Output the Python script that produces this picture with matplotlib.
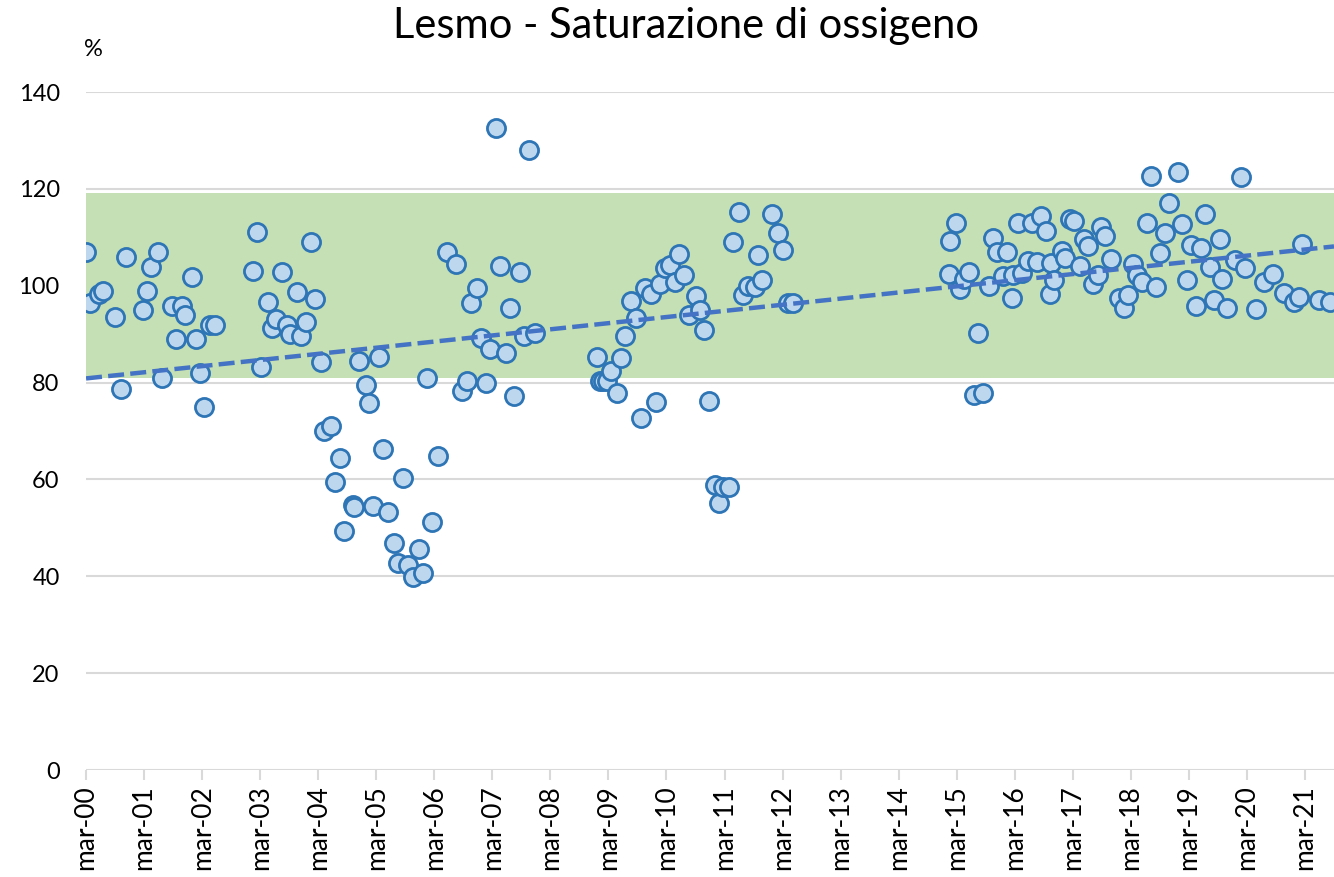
import matplotlib.pyplot as plt
import numpy as np

plt.rcParams['font.family'] = ['Lato', 'DejaVu Sans']

# anni dal marzo 2000 e saturazione di ossigeno (%)
anni = [0.00, 0.07, 0.22, 0.30, 0.50, 0.60, 0.69, 0.98, 1.05, 1.12, 1.24, 1.30,
        1.48, 1.55, 1.65, 1.71, 1.82, 1.89, 1.97, 2.04, 2.14, 2.23,
        2.88, 2.95, 3.02, 3.13, 3.20, 3.28, 3.38, 3.46, 3.52, 3.63, 3.70, 3.79,
        3.88, 3.95, 4.05, 4.10, 4.22, 4.29, 4.37, 4.45, 4.60, 4.62, 4.70, 4.82,
        4.87, 4.95, 5.05, 5.12, 5.21, 5.30, 5.37, 5.46, 5.54, 5.64, 5.73, 5.81,
        5.88, 5.96, 6.06, 6.22, 6.38, 6.48, 6.56, 6.63, 6.73, 6.81, 6.89, 6.96,
        7.06, 7.14, 7.23, 7.30, 7.38, 7.47, 7.55, 7.63, 7.73,
        8.80, 8.85, 8.90, 8.97, 9.04, 9.14, 9.22, 9.29, 9.39, 9.47, 9.56, 9.63,
        9.74, 9.82, 9.88, 9.97, 10.06, 10.14, 10.22, 10.31, 10.39, 10.50, 10.57,
        10.64, 10.74, 10.84, 10.91, 10.98, 11.08, 11.15, 11.25, 11.32, 11.40,
        11.52, 11.58, 11.65, 11.82, 11.92, 12.00, 12.09, 12.18,
        14.86, 14.89, 14.98, 15.05, 15.12, 15.21, 15.30, 15.37, 15.46, 15.55,
        15.62, 15.69, 15.80, 15.87, 15.96, 15.97, 16.05, 16.13, 16.22, 16.30,
        16.38, 16.45, 16.53, 16.61, 16.62, 16.68, 16.81, 16.87, 16.95, 17.02,
        17.12, 17.19, 17.27, 17.34, 17.43, 17.49, 17.56, 17.65, 17.79, 17.88,
        17.95, 18.03, 18.10, 18.20, 18.27, 18.35, 18.43, 18.50, 18.58, 18.65,
        18.81, 18.88, 18.96, 19.04, 19.13, 19.21, 19.28, 19.36, 19.43, 19.53,
        19.57, 19.65, 19.80, 19.89, 19.96, 20.15, 20.30, 20.45, 20.63, 20.81,
        20.89, 20.95, 21.25, 21.43]
saturazione = [106.9, 96.4, 98.4, 98.9, 93.5, 78.6, 105.9, 95.0, 99.0, 103.9, 107.0, 81.0,
               95.9, 89.0, 95.9, 93.9, 101.9, 89.0, 81.9, 74.9, 91.9, 91.9,
               103.0, 111.2, 83.2, 96.6, 91.3, 93.2, 102.8, 91.8, 90.0, 98.7, 89.6, 92.6,
               109.0, 97.2, 84.2, 70.0, 71.0, 59.5, 64.4, 49.3, 54.7, 54.3, 84.5, 79.5,
               75.8, 54.5, 85.2, 66.3, 53.3, 46.9, 42.8, 60.4, 42.3, 39.9, 45.6, 40.6,
               80.9, 51.3, 64.8, 107.0, 104.5, 78.2, 80.4, 96.4, 99.5, 89.3, 80.0, 87.0,
               132.5, 104.1, 86.2, 95.5, 77.2, 102.8, 89.6, 128.1, 90.3,
               85.3, 80.3, 80.3, 80.3, 82.5, 77.9, 85.0, 89.6, 96.8, 93.4, 72.6, 99.5,
               98.4, 76.1, 100.3, 103.7, 104.2, 100.8, 106.5, 102.3, 93.9, 97.9, 95.0,
               90.8, 76.2, 58.8, 55.2, 58.4, 58.5, 109.0, 115.2, 98.0, 99.9,
               99.7, 106.3, 101.2, 114.8, 110.9, 107.4, 96.5, 96.5,
               102.5, 109.3, 112.9, 99.3, 101.3, 102.9, 77.4, 90.3, 77.9, 99.9,
               109.9, 107.0, 102.1, 107.0, 97.5, 102.2, 112.9, 102.6, 105.2, 113.0,
               105.0, 114.4, 111.4, 98.2, 104.8, 101.2, 107.2, 105.7, 113.7, 113.4,
               104.1, 109.6, 108.2, 100.4, 102.2, 112.2, 110.3, 105.5, 97.4, 95.5,
               98.1, 104.6, 102.2, 100.8, 113.0, 122.7, 99.8, 106.7, 111.0, 117.1,
               123.5, 112.8, 101.2, 108.4, 95.9, 107.7, 114.8, 103.9, 97.0, 109.6,
               101.4, 95.5, 105.4, 122.4, 103.7, 95.3, 100.7, 102.4, 98.6, 96.7,
               97.7, 108.6, 97.0, 96.6]
etichette = ['mar-%02d' % a for a in range(22)]
range_min, range_max = 80.9, 119.2

x = np.array(anni)
y = np.array(saturazione)

fig = plt.figure(figsize=(13.34, 8.77), dpi=100)
ax = fig.add_axes([0.0645, 0.122, 0.9355, 0.773])

ax.axhspan(range_min, range_max, color='#C5E0B4', zorder=1, lw=0)
for v in range(0, 141, 20):
    ax.axhline(v, color='#D9D9D9', lw=1.5, zorder=0)

ax.scatter(x, y, s=170, facecolor='#BDD7EE', edgecolor='#2E75B6', linewidths=2, zorder=3)

# linea di tendenza
m, q = np.polyfit(x, y, 1)
xt = np.array([0, 21.5])
ax.plot(xt, m * xt + q + 0.8, color='#4472C4', lw=3.2, ls=(0, (3.6, 1.4)), zorder=4)

ax.set_xlim(0, 21.5)
ax.set_ylim(0, 140)
ax.set_yticks(range(0, 141, 20))
ax.set_xticks(range(22))
ax.set_xticklabels(etichette, rotation=90)
for s in ax.spines.values():
    s.set_visible(False)
ax.tick_params(axis='y', length=0, labelsize=17, pad=19)
ax.tick_params(axis='x', length=7, color='#D9D9D9', width=1.5, labelsize=19, pad=4)

fig.text(0.07, 0.943, '%', fontsize=17, ha='center', va='center')
fig.text(0.514, 0.97, 'Lesmo - Saturazione di ossigeno', fontsize=30, ha='center', va='center')

fig.savefig('out.png', dpi=100)
